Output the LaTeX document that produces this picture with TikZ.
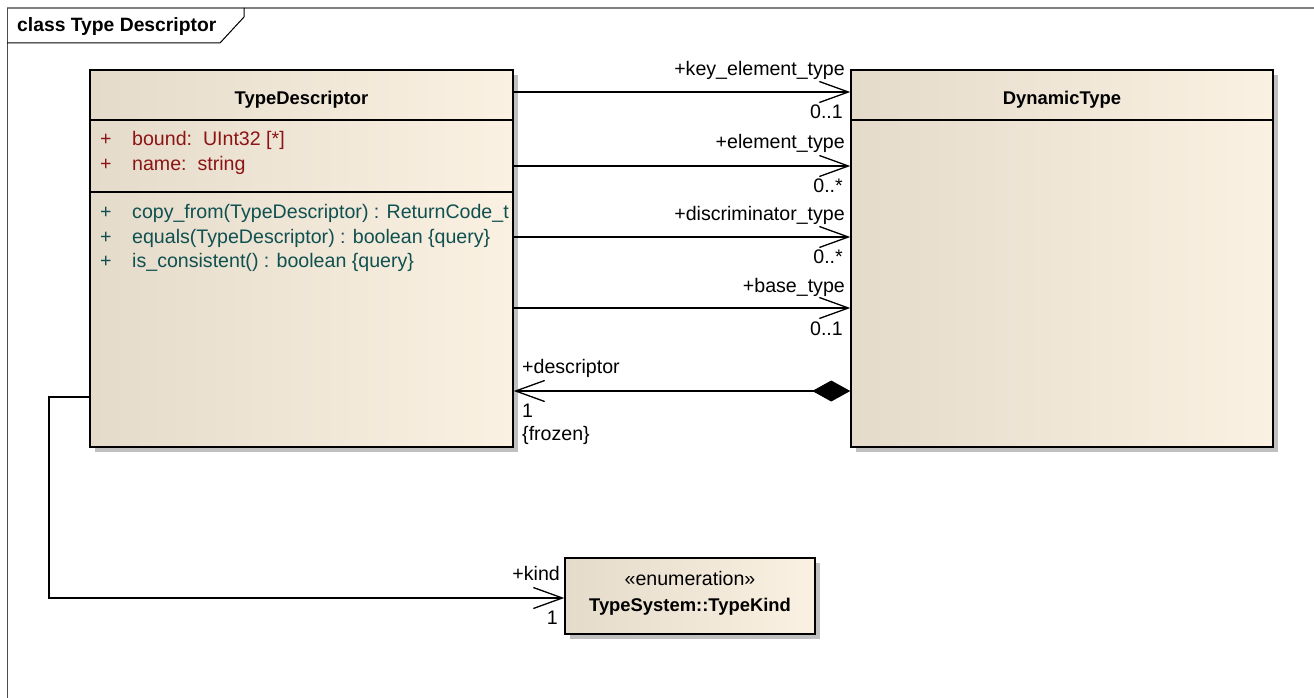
\documentclass[tikz,border=0pt]{standalone}
\usepackage{fontspec}
\setmainfont{Liberation Sans}
\usetikzlibrary{arrows.meta,shadows}
\definecolor{boxleft}{RGB}{229,219,203}
\definecolor{boxright}{RGB}{250,241,226}
\definecolor{shadowgray}{RGB}{192,192,192}
\definecolor{attrred}{RGB}{140,20,20}
\definecolor{opteal}{RGB}{15,80,80}
\definecolor{framegray}{RGB}{128,128,128}
\newcommand{\regfont}{\fontsize{19.6}{22}\selectfont}
\newcommand{\boldfont}{\fontsize{18.4}{22}\selectfont\bfseries}
\newcommand{\titlefont}{\fontsize{19.3}{22}\selectfont\bfseries}
\tikzset{
  classbox/.style={draw=black, line width=1.5pt, left color=boxleft, right color=boxright,
    shading angle=90, inner sep=0pt,
    drop shadow={shadow xshift=5pt, shadow yshift=-5pt, fill=shadowgray, opacity=1}},
  sepline/.style={draw=black, line width=1.3pt},
  txt/.style={inner sep=0pt, font=\regfont, text=black},
  btxt/.style={inner sep=0pt, font=\boldfont, text=black},
  attr/.style={txt, text=attrred, anchor=base west},
  oper/.style={txt, text=opteal, anchor=base west},
  conn/.style={draw=black, line width=1.3pt},
  openhead/.style={-{Straight Barb[length=29pt,width=21pt,line width=1.3pt]}},
}
\begin{document}
\begin{tikzpicture}[x=1pt,y=-1pt]
\useasboundingbox (0,0) rectangle (1314,698);
\fill[white] (0,0) rectangle (1314,698);
% frame
\draw[framegray, line width=1.6pt] (7,8) -- (1314,8);
\draw[black!70, line width=1pt] (7,8) -- (7,698);
\draw[black, line width=1pt] (7,43) -- (220,43) -- (244,17) -- (244,8);
\node[inner sep=0pt, font=\titlefont, anchor=base west] (title) at (17,32) {class Type Descriptor};

% classes
\node[classbox, minimum width=423pt, minimum height=377pt] (td) at (301.5,258.5) {};
\node[classbox, minimum width=422pt, minimum height=377pt] (dt) at (1062,258.5) {};
\node[classbox, minimum width=250pt, minimum height=76pt] (tk) at (690,596) {};

% TypeDescriptor compartments
\draw[sepline] (90,120) -- (513,120);
\draw[sepline] (90,192) -- (513,192);
\node[btxt, anchor=base] (tdname) at (301.5,105) {TypeDescriptor};
\node[attr] (a1p) at (100,146) {+};
\node[attr] (a1) at (132,146) {bound:\ \ UInt32 [*]};
\node[attr] (a2p) at (100,171) {+};
\node[attr] (a2) at (132,171) {name:\ \ string};
\node[oper] (o1p) at (100,218) {+};
\node[oper] (o1) at (132,218) {copy\_from(TypeDescriptor) : ReturnCode\_t};
\node[oper] (o2p) at (100,243) {+};
\node[oper] (o2) at (132,243) {equals(TypeDescriptor) : boolean \{query\}};
\node[oper] (o3p) at (100,267) {+};
\node[oper] (o3) at (132,267) {is\_consistent() : boolean \{query\}};

% DynamicType
\draw[sepline] (851,120) -- (1273,120);
\node[btxt, anchor=base] (dtname) at (1062,105) {DynamicType};

% TypeKind
\node[txt, anchor=base] (tkst) at (690,585) {«enumeration»};
\node[btxt, anchor=base] (tkname) at (690,611) {TypeSystem::TypeKind};

% associations
\draw[conn, openhead] (td.east |- 0,92) -- (dt.west |- 0,92);
\node[txt, anchor=base east] (r1) at (845,76) {+key\_element\_type};
\node[txt, anchor=base east] (m1) at (843,119) {0..1};

\draw[conn, openhead] (td.east |- 0,166) -- (dt.west |- 0,166);
\node[txt, anchor=base east] (r2) at (845,149) {+element\_type};
\node[txt, anchor=base east] (m2) at (843,192) {0..*};

\draw[conn, openhead] (td.east |- 0,237) -- (dt.west |- 0,237);
\node[txt, anchor=base east] (r3) at (845,220) {+discriminator\_type};
\node[txt, anchor=base east] (m3) at (843,263) {0..*};

\draw[conn, openhead] (td.east |- 0,308) -- (dt.west |- 0,308);
\node[txt, anchor=base east] (r4) at (845,292) {+base\_type};
\node[txt, anchor=base east] (m4) at (843,335) {0..1};

% composition
\draw[conn, {Diamond[length=38pt,width=21pt,fill=black]}-{Straight Barb[length=29pt,width=21pt,line width=1.3pt]}]
  (dt.west |- 0,391) -- (td.east |- 0,391);
\node[txt, anchor=base west] (r5) at (522,373) {+descriptor};
\node[txt, anchor=base west] (m5) at (522,417) {1};
\node[txt, anchor=base west] (c5) at (522,440) {\{frozen\}};

% kind
\coordinate (k1) at (49,397);
\coordinate (k2) at (49,598);
\draw[conn, openhead] (td.west |- k1) -- (k1) -- (k2) -- (tk.west |- k2);
\node[txt, anchor=base east] (r6) at (560,580) {+kind};
\node[txt, anchor=base east] (m6) at (558,624) {1};
\end{tikzpicture}
\end{document}
